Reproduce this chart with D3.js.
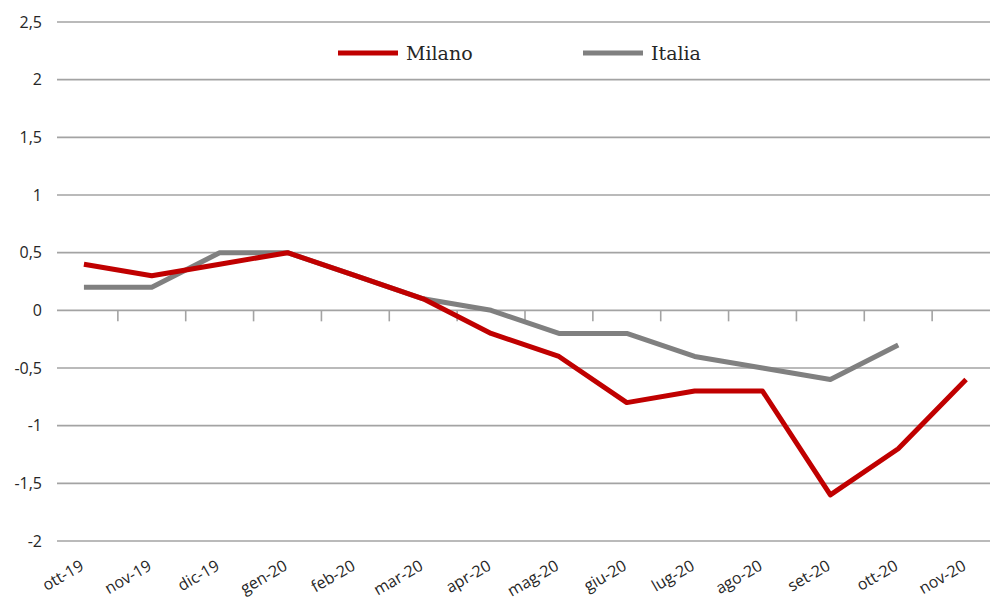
<!DOCTYPE html>
<html>
<head>
<meta charset="utf-8">
<script src="https://cdn.jsdelivr.net/npm/d3@7"></script>
<style>
body { margin: 0; background: #fff; }
.axis text { font-family: "Open Sans", sans-serif; fill: #262626; }
.legend text { font-family: "DejaVu Serif", serif; fill: #262626; }
</style>
</head>
<body>
<div id="chart"></div>
<script>
var months = ["ott-19","nov-19","dic-19","gen-20","feb-20","mar-20","apr-20",
              "mag-20","giu-20","lug-20","ago-20","set-20","ott-20","nov-20"];
var milano = [0.4, 0.3, 0.4, 0.5, 0.3, 0.1, -0.2, -0.4, -0.8, -0.7, -0.7, -1.6, -1.2, -0.6];
var italia = [0.2, 0.2, 0.5, 0.5, 0.3, 0.1, 0.0, -0.2, -0.2, -0.4, -0.5, -0.6, -0.3, null];
var yTicks = [-2, -1.5, -1, -0.5, 0, 0.5, 1, 1.5, 2, 2.5];

var width = 990, height = 601;

var svg = d3.select("#chart")
    .append("svg")
    .attr("width", width)
    .attr("height", height);

var x = d3.scaleBand()
    .domain(months)
    .range([50, 1000]);

var y = d3.scaleLinear()
    .domain([-2, 2.5])
    .range([541, 22]);

var fmt = function(d) { return String(d).replace(".", ","); };

// gridlines
svg.append("g")
    .selectAll("line")
    .data(yTicks)
    .enter().append("line")
    .attr("x1", 57)
    .attr("x2", width)
    .attr("y1", function(d) { return y(d); })
    .attr("y2", function(d) { return y(d); })
    .attr("stroke", "#a3a3a3")
    .attr("stroke-width", 1.6);

// y labels
var yAxis = d3.axisLeft(y)
    .tickValues(yTicks)
    .tickFormat(fmt)
    .tickSize(0)
    .tickPadding(0);
svg.append("g")
    .attr("class", "axis")
    .attr("transform", "translate(42,0)")
    .call(yAxis)
    .call(function(g) { g.select(".domain").remove(); })
    .selectAll("text")
    .style("font-size", "16px");

// tick marks on zero line, at band boundaries
svg.append("g")
    .selectAll("line")
    .data(months.slice(1))
    .enter().append("line")
    .attr("x1", function(d) { return x(d); })
    .attr("x2", function(d) { return x(d); })
    .attr("y1", y(0))
    .attr("y2", y(0) + 11)
    .attr("stroke", "#a3a3a3")
    .attr("stroke-width", 1.6);

// x labels
svg.append("g")
    .attr("class", "axis")
    .selectAll("text")
    .data(months)
    .enter().append("text")
    .attr("transform", function(d) {
        return "translate(" + (x(d) + x.bandwidth() / 2 + 1) + ",569) rotate(-30)";
    })
    .attr("text-anchor", "end")
    .style("font-size", "16px")
    .text(function(d) { return d; });

var line = d3.line()
    .defined(function(d) { return d != null; })
    .x(function(d, i) { return x(months[i]) + x.bandwidth() / 2; })
    .y(function(d) { return y(d); });

svg.append("path")
    .datum(italia)
    .attr("fill", "none")
    .attr("stroke", "#808080")
    .attr("stroke-width", 5)
    .attr("stroke-linejoin", "round")
    .attr("d", line);

svg.append("path")
    .datum(milano)
    .attr("fill", "none")
    .attr("stroke", "#c00000")
    .attr("stroke-width", 5)
    .attr("stroke-linejoin", "round")
    .attr("d", line);

// legend
var legendItems = [
    {name: "Milano", color: "#c00000", x: 338},
    {name: "Italia", color: "#808080", x: 583}
];
var legend = svg.append("g").attr("class", "legend");
legendItems.forEach(function(d) {
    legend.append("line")
        .attr("x1", d.x).attr("x2", d.x + 60)
        .attr("y1", 53).attr("y2", 53)
        .attr("stroke", d.color)
        .attr("stroke-width", 5);
    legend.append("text")
        .attr("x", d.x + 68)
        .attr("y", 60)
        .style("font-size", "19px")
        .text(d.name);
});
</script>
</body>
</html>
